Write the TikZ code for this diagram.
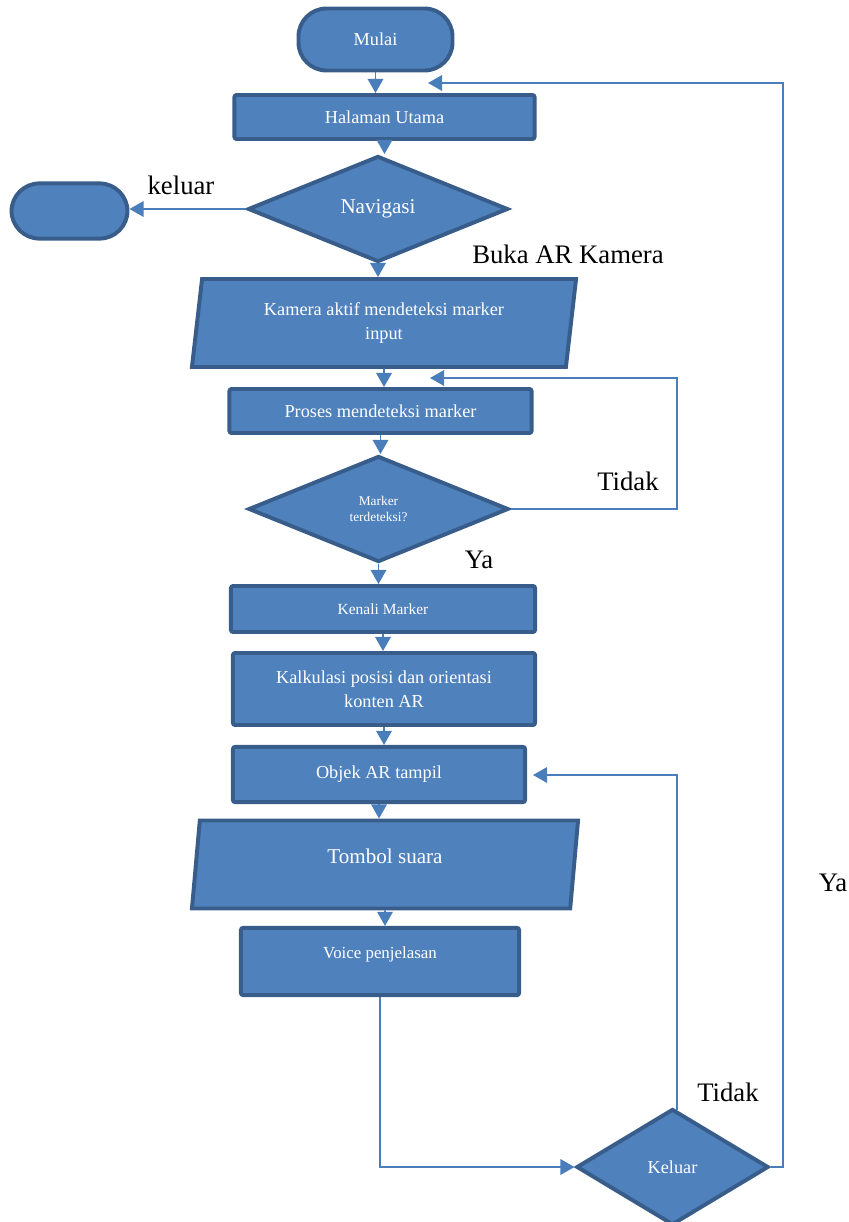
\documentclass[tikz,border=0pt]{standalone}
\usepackage{fontspec}
\setmainfont{LiberationSerif}[Extension=.ttf, UprightFont=*-Regular, BoldFont=*-Bold, ItalicFont=*-Italic]
\usetikzlibrary{shapes.geometric,arrows.meta}
\definecolor{isian}{RGB}{79,129,189}
\definecolor{tepi}{RGB}{56,93,138}
\definecolor{garis}{RGB}{74,126,187}
\tikzset{
  kotak/.style={draw=tepi, fill=isian, line width=2.8pt, rounded corners=1.5pt,
    text=white, align=center, inner sep=0pt, font=\fontsize{13}{17}\selectfont},
  terminal/.style={kotak, rounded corners=0.7cm},
  keputusan/.style={kotak, diamond, sharp corners},
  masukan/.style={kotak, trapezium, trapezium left angle=76, trapezium right angle=104,
    trapezium stretches body, sharp corners},
  panah/.style={draw=garis, line width=1.3pt, -{Triangle[length=10pt,width=11pt]}},
  ket/.style={font=\fontsize{19}{22}\selectfont, text=black, inner sep=0pt}
}
\begin{document}
\begin{tikzpicture}[x=0.025cm,y=-0.025cm]
    \useasboundingbox (0,0) rectangle (848,1222);
    % shapes
    \node[terminal, minimum width=3.85cm, minimum height=1.55cm] (mulai) at (375.5,39.5) {Mulai};
    \node[kotak, minimum width=7.5cm, minimum height=1.1cm] (halaman) at (384.5,117) {Halaman Utama};
    \node[keputusan, minimum width=6.5cm, minimum height=2.65cm, font=\fontsize{15}{18}\selectfont] (navigasi) at (378,209) {Navigasi};
    \node[terminal, minimum width=2.9cm, minimum height=1.38cm] (selesai) at (69.5,211) {};
    \node[masukan, minimum width=9.6cm, minimum height=2.2cm] (kamera) at (384,323) {Kamera aktif mendeteksi marker\\input};
    \node[kotak, minimum width=7.55cm, minimum height=1.1cm] (proses) at (380.5,411) {Proses mendeteksi marker};
    \node[keputusan, minimum width=6.5cm, minimum height=2.65cm, font=\fontsize{9.5}{11.4}\selectfont] (deteksi) at (378.5,509) {Marker\\terdeteksi?};
    \node[kotak, minimum width=7.6cm, minimum height=1.15cm, font=\fontsize{11}{13}\selectfont] (kenali) at (383,609) {Kenali Marker};
    \node[kotak, minimum width=7.55cm, minimum height=1.8cm] (kalkulasi) at (384,689) {Kalkulasi posisi dan orientasi\\konten AR};
    \node[kotak, minimum width=7.3cm, minimum height=1.38cm] (objek) at (379,774.5) {Objek AR tampil};
    \node[masukan, minimum width=9.65cm, minimum height=2.2cm, font=\fontsize{15}{18}\selectfont, text depth=12pt] (tombol) at (385,864.5) {Tombol suara};
    \node[kotak, minimum width=6.95cm, minimum height=1.68cm, font=\fontsize{12}{14}\selectfont, text depth=12pt] (voice) at (380,961.5) {Voice penjelasan};
    \node[keputusan, minimum width=4.8cm, minimum height=2.9cm] (keluar) at (672.5,1167) {Keluar};
    % free ends
    \coordinate (awal) at (428,83);
    \coordinate (kanan) at (783,83);
    \coordinate (cekmasuk) at (430,378);
    \coordinate (sudut) at (677,378);
    \coordinate (objekmasuk) at (533,775);
    \coordinate (naik) at (677,1110);
    % connectors
    \draw[panah] (mulai) -- (mulai |- halaman.north);
    \draw[panah] (halaman) -- (halaman |- navigasi.north);
    \draw[panah] (navigasi.west) -- (navigasi.west -| selesai.east);
    \draw[panah] (navigasi) -- (navigasi |- kamera.north);
    \draw[panah] (kamera) -- (kamera |- proses.north);
    \draw[panah] (proses) -- (proses |- deteksi.north);
    \draw[panah] (deteksi.east) -| (sudut) -- (cekmasuk);
    \draw[panah] (deteksi) -- (deteksi |- kenali.north);
    \draw[panah] (kenali) -- (kenali |- kalkulasi.north);
    \draw[panah] (kalkulasi) -- (kalkulasi |- objek.north);
    \draw[panah] (objek) -- (objek |- tombol.north);
    \draw[panah] (tombol) -- (tombol |- voice.north);
    \draw[panah] (voice) |- (keluar);
    \draw[panah] (naik) |- (objekmasuk);
    \draw[panah] (keluar.east) -| (kanan) -- (awal);
    % labels
    \node[ket] (lkeluar) at (181,185) {keluar};
    \node[ket] (lbuka) at (568,254) {Buka AR Kamera};
    \node[ket] (ltidak) at (628,481) {Tidak};
    \node[ket] (lya) at (479,560) {Ya};
    \node[ket] (ltidak2) at (728,1092) {Tidak};
    \node[ket] (lya2) at (833,883) {Ya};
\end{tikzpicture}
\end{document}
